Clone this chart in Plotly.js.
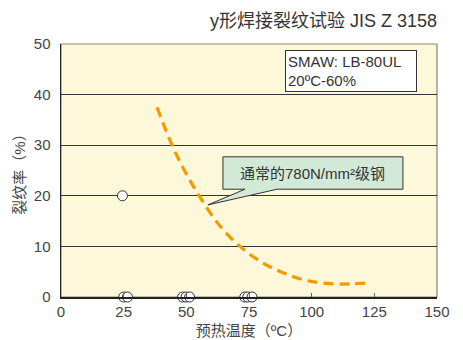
<!DOCTYPE html>
<html>
<head>
<meta charset="utf-8">
<script src="https://cdn.plot.ly/plotly-3.0.1.min.js"></script>
<style>html,body{margin:0;padding:0;background:#fff;}#chart{width:463px;height:340px;}</style>
</head>
<body>
<div id="chart"></div>
<script>
// Test points (preheat temperature, crack ratio)
const testTemp = [24.5, 25, 26.5, 48.5, 49.9, 51.3, 73.3, 74.5, 76.2];
const testCrack = [20, 0, 0, 0, 0, 0, 0, 0, 0];

// Ordinary 780N/mm2 steel curve (dashed)
const curveTemp = [38.3, 44.3, 49.7, 55.4, 63, 71.4, 80, 88.6, 98.5, 108.5, 116, 123.3];
const curveCrack = [37.5, 30, 24.6, 19.8, 14.3, 10, 6.9, 4.8, 3.2, 2.6, 2.6, 2.8];

const xTicks = [0, 25, 50, 75, 100, 125, 150];
const yTicks = [0, 10, 20, 30, 40, 50];

const FONT = 'Liberation Sans, Arial, "Noto Sans CJK SC", sans-serif';

const traces = [
  {
    x: curveTemp, y: curveCrack, mode: 'lines', type: 'scatter',
    line: {color: '#f39a00', width: 3.2, dash: '10px,6px', shape: 'spline', smoothing: 1},
    hoverinfo: 'skip', cliponaxis: false
  },
  {
    x: testTemp, y: testCrack, mode: 'markers', type: 'scatter',
    marker: {size: 10, color: '#ffffff', line: {color: '#333333', width: 1}},
    cliponaxis: false
  }
];

const layout = {
  width: 463, height: 340,
  margin: {l: 61, r: 26, t: 44, b: 43},
  paper_bgcolor: '#ffffff',
  plot_bgcolor: '#fdf8da',
  showlegend: false,
  font: {family: FONT, color: '#444444', size: 15},
  title: {
    text: 'y形焊接裂纹试验 JIS Z 3158',
    font: {family: FONT, size: 18, color: '#333333'},
    x: 1, xref: 'paper', xanchor: 'right', y: 0.94, yanchor: 'middle'
  },
  xaxis: {
    range: [0, 150], tickvals: xTicks, ticktext: xTicks.map(String),
    showgrid: false, zeroline: false,
    showline: true, linecolor: '#222222', linewidth: 1.5,
    ticks: 'inside', ticklen: 4, tickcolor: '#666666', tickwidth: 1,
    tickfont: {size: 15, color: '#444444'},
    title: {text: '预热温度（ºC）', font: {size: 15, color: '#444444'}, standoff: 7}
  },
  yaxis: {
    range: [0, 50], tickvals: yTicks, ticktext: yTicks.map(String),
    showgrid: true, gridcolor: '#333333', gridwidth: 1, zeroline: false,
    showline: true, linecolor: '#222222', linewidth: 1.5,
    ticks: '', ticklabelstandoff: 6,
    tickfont: {size: 15, color: '#444444'},
    title: {text: '裂纹率（%）', font: {size: 15, color: '#444444'}, standoff: 4}
  },
  shapes: [
    {type: 'rect', xref: 'paper', yref: 'paper', x0: 0, x1: 1, y0: 0, y1: 1,
     line: {color: '#8c8470', width: 1.2}, fillcolor: 'rgba(0,0,0,0)', layer: 'below'},
    {type: 'path', xref: 'x', yref: 'y', layer: 'above',
     path: 'M 64.6 27.7 L 136.4 27.7 L 136.4 21.3 L 86.2 21.3 L 58.6 18.2 L 73.4 21.3 L 64.6 21.3 Z',
     fillcolor: '#d3e9d8', line: {color: '#333333', width: 1}}
  ],
  annotations: [
    {xref: 'x', yref: 'y', x: 115.5, y: 44.7, xanchor: 'center', yanchor: 'middle',
     text: 'SMAW: LB-80UL<br>20ºC-60%', align: 'left', showarrow: false,
     width: 126, height: 36, borderpad: 2,
     bgcolor: '#ffffff', bordercolor: '#333333', borderwidth: 1,
     font: {size: 15, color: '#333333'}},
    {xref: 'x', yref: 'y', x: 100.5, y: 24.5, xanchor: 'center', yanchor: 'middle',
     text: '通常的780N/mm²级钢', showarrow: false,
     font: {size: 15, color: '#333333'}}
  ]
};

Plotly.newPlot('chart', traces, layout, {staticPlot: true, displayModeBar: false});
</script>
</body>
</html>
